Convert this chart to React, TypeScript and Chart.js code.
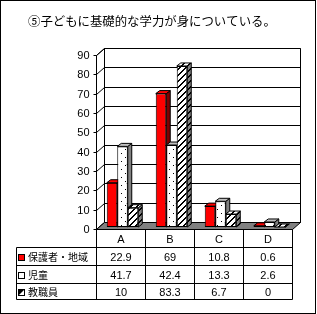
import React, { useEffect, useRef } from "react";
import { Chart, registerables } from "chart.js";

Chart.register(...registerables);

const TITLE = "⑤子どもに基礎的な学力が身についている。";
const categories = ["A", "B", "C", "D"];
const seriesNames = ["保護者・地域", "児童", "教職員"];
const guardians = [22.9, 69, 10.8, 0.6];
const pupils = [41.7, 42.4, 13.3, 2.6];
const staff = [10, 83.3, 6.7, 0];
const Y_MIN = 0;
const Y_MAX = 90;
const Y_STEP = 10;

const W = 317;
const H = 314;
const JP = '"Noto Sans CJK JP", sans-serif';
const NUM = '"Liberation Sans", Arial, sans-serif';

// 3D geometry offsets relative to the plane in which bars are drawn
const FRONT = { dx: -2, dy: 2 };
const BACK = { dx: 6, dy: -5 };
const DEPTH = { dx: 4, dy: -3 };

function makePattern(
  ctx: CanvasRenderingContext2D,
  size: number,
  on: (x: number, y: number) => boolean,
  bg: [number, number, number, number]
) {
  const c = document.createElement("canvas");
  c.width = size;
  c.height = size;
  const g = c.getContext("2d")!;
  const img = g.createImageData(size, size);
  for (let y = 0; y < size; y++) {
    for (let x = 0; x < size; x++) {
      const i = (y * size + x) * 4;
      const v = on(x, y);
      img.data[i] = v ? 0 : bg[0];
      img.data[i + 1] = v ? 0 : bg[1];
      img.data[i + 2] = v ? 0 : bg[2];
      img.data[i + 3] = v ? 255 : bg[3];
    }
  }
  g.putImageData(img, 0, 0);
  return ctx.createPattern(c, "repeat")!;
}

export default function App() {
  const ref = useRef<HTMLCanvasElement | null>(null);

  useEffect(() => {
    document.body.style.margin = "0";
    const canvas = ref.current!;
    const ctx = canvas.getContext("2d")!;

    const dots = makePattern(
      ctx,
      8,
      (x, y) => (x === 1 && y === 1) || (x === 5 && y === 5),
      [255, 255, 255, 255]
    );
    const hatch = makePattern(ctx, 6, (x, y) => (x + y) % 6 < 2, [255, 255, 255, 255]);
    const hatchGray = makePattern(ctx, 6, (x, y) => (x + y) % 6 < 2, [128, 128, 128, 255]);

    const fronts: any[] = ["#ff0000", dots, hatch];
    const sides: any[] = ["#800000", "#808080", hatchGray];
    const tops: any[] = ["#ff0000", "#c0c0c0", hatch];
    const seriesValues = [guardians, pupils, staff];

    const poly = (c: CanvasRenderingContext2D, pts: number[][], fill: any) => {
      c.beginPath();
      c.moveTo(pts[0][0], pts[0][1]);
      for (let k = 1; k < pts.length; k++) c.lineTo(pts[k][0], pts[k][1]);
      c.closePath();
      if (fill) {
        c.fillStyle = fill;
        c.fill();
      }
      c.strokeStyle = "#000";
      c.lineWidth = 1;
      c.stroke();
    };

    const line = (c: CanvasRenderingContext2D, x1: number, y1: number, x2: number, y2: number) => {
      c.beginPath();
      c.moveTo(x1, y1);
      c.lineTo(x2, y2);
      c.stroke();
    };

    const excel3d = {
      id: "excel3d",
      beforeDraw(chart: any) {
        const c = chart.ctx;
        c.save();
        c.fillStyle = "#fff";
        c.fillRect(0, 0, W, H);
        c.strokeStyle = "#000";
        c.lineWidth = 1;
        c.strokeRect(0.5, 0.5, 315, 313);
        // title
        c.fillStyle = "#000";
        c.font = `12.4px ${JP}`;
        c.textAlign = "left";
        c.textBaseline = "middle";
        c.fillText(TITLE, 28, 21);
        c.restore();
      },
      beforeDatasetsDraw(chart: any) {
        const c = chart.ctx;
        const a = chart.chartArea;
        const ys = chart.scales.y;
        const L = Math.round(a.left) + 0.5;
        const R = Math.round(a.right) + 0.5;
        const T = Math.round(a.top) + 0.5;
        const B = Math.round(a.bottom) + 0.5;
        c.save();
        c.lineWidth = 1;
        c.strokeStyle = "#000";
        // back wall
        poly(
          c,
          [
            [L + BACK.dx, T + BACK.dy],
            [R + BACK.dx, T + BACK.dy],
            [R + BACK.dx, B + BACK.dy],
            [L + BACK.dx, B + BACK.dy],
          ],
          "#fff"
        );
        // side wall
        poly(
          c,
          [
            [L + FRONT.dx, T + FRONT.dy],
            [L + BACK.dx, T + BACK.dy],
            [L + BACK.dx, B + BACK.dy],
            [L + FRONT.dx, B + FRONT.dy],
          ],
          "#fff"
        );
        // gridlines, side-wall diagonals, tick labels
        const ticks = ys.ticks && ys.ticks.length ? ys.ticks.map((t: any) => t.value) : [];
        c.font = `11px ${NUM}`;
        c.textAlign = "right";
        c.textBaseline = "middle";
        c.fillStyle = "#000";
        for (const v of ticks) {
          const py = Math.round(ys.getPixelForValue(v)) + 0.5;
          line(c, L + BACK.dx, py + BACK.dy, R + BACK.dx, py + BACK.dy);
          line(c, L + FRONT.dx - 3, py + FRONT.dy, L + FRONT.dx, py + FRONT.dy);
          line(c, L + FRONT.dx, py + FRONT.dy, L + BACK.dx, py + BACK.dy);
          c.fillText(String(v), L + FRONT.dx - 7, py + FRONT.dy);
        }
        // floor
        poly(
          c,
          [
            [L + FRONT.dx, B + FRONT.dy],
            [R + FRONT.dx, B + FRONT.dy],
            [R + BACK.dx, B + BACK.dy],
            [L + BACK.dx, B + BACK.dy],
          ],
          "#808080"
        );
        // front axis
        line(c, L + FRONT.dx, T + FRONT.dy, L + FRONT.dx, B + FRONT.dy);

        // bar sides and tops, left to right
        const n = chart.data.datasets.length;
        const count = chart.data.labels.length;
        for (let j = 0; j < count; j++) {
          for (let i = 0; i < n; i++) {
            const el = chart.getDatasetMeta(i).data[j];
            if (!el) continue;
            const p = el.getProps(["x", "y", "base", "width"], true);
            const l = p.x - p.width / 2;
            const r = p.x + p.width / 2;
            const t = Math.min(p.y, p.base);
            const b = Math.max(p.y, p.base);
            poly(
              c,
              [
                [r, t],
                [r + DEPTH.dx, t + DEPTH.dy],
                [r + DEPTH.dx, b + DEPTH.dy],
                [r, b],
              ],
              sides[i]
            );
            poly(
              c,
              [
                [l, t],
                [l + DEPTH.dx, t + DEPTH.dy],
                [r + DEPTH.dx, t + DEPTH.dy],
                [r, t],
              ],
              tops[i]
            );
          }
        }
        c.restore();
      },
      afterDraw(chart: any) {
        const c = chart.ctx;
        const a = chart.chartArea;
        const xs = chart.scales.x;
        const L = Math.round(a.left) + 0.5 + FRONT.dx;
        const B = Math.round(a.bottom) + 0.5 + FRONT.dy;
        const half = (xs.getPixelForValue(1) - xs.getPixelForValue(0)) / 2;
        const bounds = [L];
        for (let j = 0; j < categories.length; j++) {
          bounds.push(Math.round(xs.getPixelForValue(j) + half) + 0.5 + FRONT.dx);
        }
        const Rt = bounds[bounds.length - 1];
        const rows = [B, 247.5, 265.5, 283.5, 299.5];
        const legendLeft = 16.5;
        c.save();
        c.strokeStyle = "#000";
        c.lineWidth = 1;
        line(c, L, rows[0], Rt, rows[0]);
        for (let k = 1; k < rows.length; k++) line(c, legendLeft, rows[k], Rt, rows[k]);
        for (const bx of bounds) line(c, bx, rows[0], bx, rows[rows.length - 1]);
        line(c, legendLeft, rows[1], legendLeft, rows[rows.length - 1]);

        c.fillStyle = "#000";
        c.textAlign = "center";
        c.textBaseline = "middle";
        c.font = `11px ${NUM}`;
        for (let j = 0; j < categories.length; j++) {
          const cx = (bounds[j] + bounds[j + 1]) / 2;
          c.fillText(categories[j], cx, (rows[0] + rows[1]) / 2 + 1);
          for (let i = 0; i < seriesValues.length; i++) {
            c.fillText(String(seriesValues[i][j]), cx, (rows[i + 1] + rows[i + 2]) / 2 + 1);
          }
        }
        // legend keys
        for (let i = 0; i < seriesNames.length; i++) {
          const cy = (rows[i + 1] + rows[i + 2]) / 2;
          const kx = 18.5;
          const ky = Math.round(cy - 3) + 0.5;
          c.fillStyle = i === 0 ? "#ff0000" : "#fff";
          c.fillRect(kx, ky, 6, 6);
          if (i === 2) {
            c.fillStyle = "#000";
            c.beginPath();
            c.moveTo(kx, ky);
            c.lineTo(kx + 6, ky);
            c.lineTo(kx, ky + 6);
            c.closePath();
            c.fill();
          }
          c.strokeRect(kx, ky, 6, 6);
          c.fillStyle = "#000";
          c.textAlign = "left";
          c.font = `10px ${JP}`;
          c.fillText(seriesNames[i], 28, cy + 1);
        }
        c.restore();
      },
    };

    const chart = new Chart(canvas, {
      type: "bar",
      data: {
        labels: categories,
        datasets: seriesValues.map((vals, i) => ({
          label: seriesNames[i],
          data: vals,
          backgroundColor: fronts[i],
          borderColor: "#000",
          borderWidth: 1,
          borderSkipped: false,
          categoryPercentage: 0.643,
          barPercentage: 1,
        })),
      },
      options: {
        responsive: false,
        animation: false,
        devicePixelRatio: 1,
        layout: { padding: { left: 98, right: 23, top: 53, bottom: 87 } },
        plugins: {
          legend: { display: false },
          title: { display: false },
          tooltip: { enabled: false },
        },
        scales: {
          x: { display: false, offset: true },
          y: { display: false, min: Y_MIN, max: Y_MAX, ticks: { stepSize: Y_STEP } },
        },
      },
      plugins: [excel3d],
    } as any);

    return () => chart.destroy();
  }, []);

  return (
    <div style={{ width: W, height: H }}>
      <canvas ref={ref} width={W} height={H} style={{ display: "block" }} />
    </div>
  );
}
